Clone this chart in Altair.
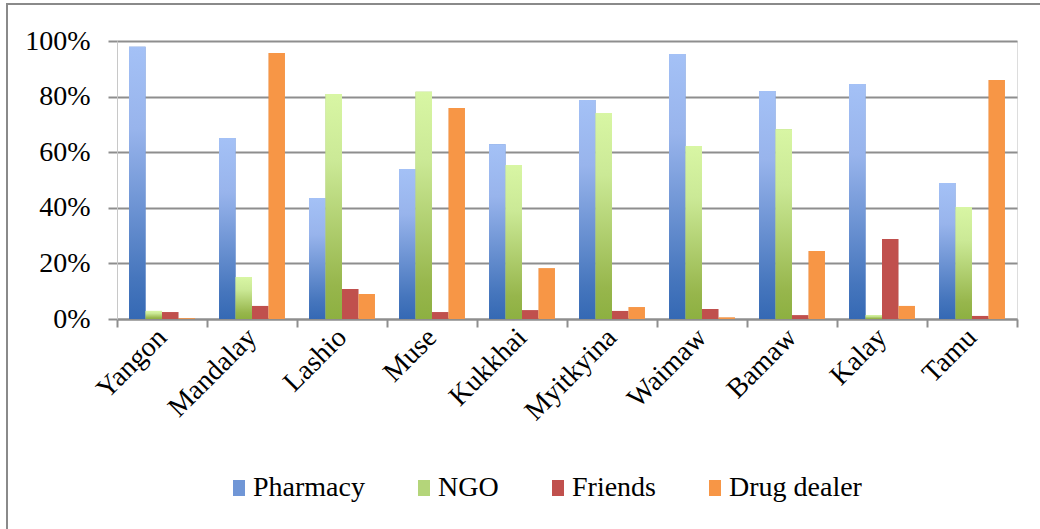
import altair as alt
import pandas as pd

# Survey sites and the share of respondents naming each source
cities = ["Yangon", "Mandalay", "Lashio", "Muse", "Kukkhai",
          "Myitkyina", "Waimaw", "Bamaw", "Kalay", "Tamu"]
series = ["Pharmacy", "NGO", "Friends", "Drug dealer"]

pharmacy = [0.979, 0.651, 0.435, 0.540, 0.629, 0.788, 0.953, 0.820, 0.845, 0.489]
ngo = [0.029, 0.151, 0.809, 0.817, 0.554, 0.741, 0.622, 0.683, 0.014, 0.403]
friends = [0.025, 0.047, 0.108, 0.025, 0.032, 0.029, 0.036, 0.014, 0.288, 0.011]
drug_dealer = [0.003, 0.957, 0.090, 0.759, 0.183, 0.043, 0.006, 0.245, 0.047, 0.860]

rows = []
for name, vals in zip(series, [pharmacy, ngo, friends, drug_dealer]):
    for c, v in zip(cities, vals):
        rows.append({"city": c, "series": name, "value": v})
df = pd.DataFrame(rows)

FONT = "Liberation Serif"
GRID = "#8e8e8e"

blue_grad = alt.Gradient(
    gradient="linear", x1=0, x2=0, y1=0, y2=1,
    stops=[alt.GradientStop(color="#a4c1f6", offset=0),
           alt.GradientStop(color="#98b4ec", offset=0.3),
           alt.GradientStop(color="#4676bd", offset=0.85),
           alt.GradientStop(color="#3569b4", offset=1)])
green_grad = alt.Gradient(
    gradient="linear", x1=0, x2=0, y1=0, y2=1,
    stops=[alt.GradientStop(color="#d8f6a4", offset=0),
           alt.GradientStop(color="#cbe996", offset=0.3),
           alt.GradientStop(color="#97b64c", offset=0.85),
           alt.GradientStop(color="#8db041", offset=1)])

base = alt.Chart(df).encode(
    x=alt.X("city:N", sort=cities, title=None,
            scale=alt.Scale(paddingInner=0, paddingOuter=0),
            axis=alt.Axis(labelAngle=-45, labelAlign="right", labelBaseline="middle",
                          labelFont=FONT, labelFontSize=28, labelColor="#000",
                          labelPadding=6, tickBand="extent", tickSize=8,
                          tickColor=GRID, tickWidth=2, domainColor=GRID,
                          domainWidth=2, grid=False)),
    xOffset=alt.XOffset("series:N", sort=series,
                        scale=alt.Scale(domain=series, paddingInner=0, paddingOuter=0.73)),
    y=alt.Y("value:Q", title=None,
            scale=alt.Scale(domain=[0, 1], nice=False),
            axis=alt.Axis(values=[0, 0.2, 0.4, 0.6, 0.8, 1.0], format=".0%",
                          labelFont=FONT, labelFontSize=28, labelColor="#000",
                          labelPadding=18, tickSize=9, tickColor=GRID, tickWidth=2,
                          grid=True, gridColor=GRID, gridWidth=2,
                          domainColor="#c8c8c8", domainWidth=1)),
)

# soft drop shadow on the right side of each bar
shadow1 = base.mark_bar(color="#000000", opacity=0.07, xOffset=2)
shadow2 = base.mark_bar(color="#000000", opacity=0.04, xOffset=4)

bars = base.mark_bar().encode(
    color=alt.Color("series:N", sort=series,
                    scale=alt.Scale(domain=series,
                                    range=["#7096d6", "#b4d57a", "#c0504d", "#f79646"]),
                    legend=alt.Legend(orient="none", legendX=108, legendY=433,
                                      direction="horizontal", title=None,
                                      labelFont=FONT, labelFontSize=28, labelColor="#000",
                                      labelOffset=0, columnPadding=45,
                                      symbolType="M-0.75,-1H0.75V1H-0.75Z",
                                      symbolSize=256, symbolStrokeWidth=0,
                                      symbolOpacity=1)))

pharm_bars = base.transform_filter(alt.datum.series == "Pharmacy").mark_bar(color=blue_grad)
ngo_bars = base.transform_filter(alt.datum.series == "NGO").mark_bar(color=green_grad)

frame = alt.Chart(pd.DataFrame({"f": [0]})).mark_rect(
    fillOpacity=0, stroke="#8a8a8a", strokeWidth=2
).encode(x=alt.value(-110), x2=alt.value(930), y=alt.value(-37), y2=alt.value(500))

chart = alt.layer(frame, shadow2, shadow1, bars, pharm_bars, ngo_bars).properties(
    width=900, height=278,
    autosize=alt.AutoSizeParams(type="none"),
    padding={"left": 117, "top": 41, "right": 23, "bottom": 210},
).configure_view(stroke=None).configure(background="white")

chart.save("out.html", embed_options={"renderer": "svg", "actions": False})
